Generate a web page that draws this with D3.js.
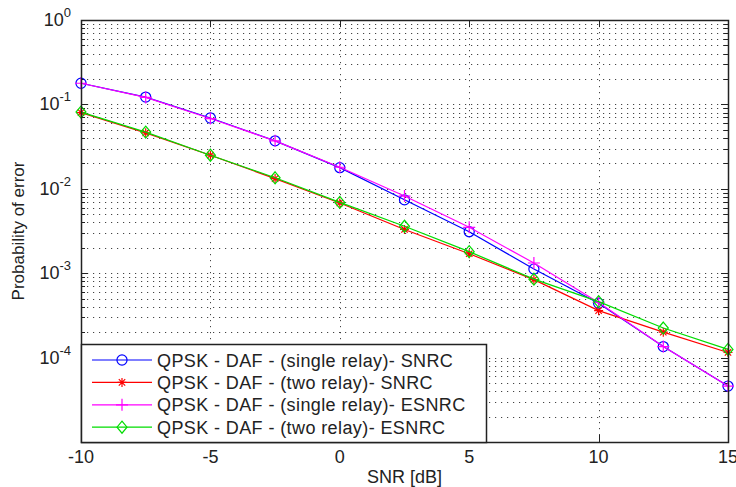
<!DOCTYPE html>
<html>
<head>
<meta charset="utf-8">
<script src="https://cdn.jsdelivr.net/npm/d3@7"></script>
<style>
  body { margin: 0; background: #fff; }
  svg text { font-family: "Liberation Sans", Arial, sans-serif; fill: #222; }
</style>
</head>
<body>
<div id="chart"></div>
<script>
// SNR points (dB)
const snr = [-10, -7.5, -5, -2.5, 0, 2.5, 5, 7.5, 10, 12.5, 15];

// probability of error
const singleSNRC  = [0.178, 0.122, 0.069, 0.037, 0.0178, 0.0074, 0.0031, 0.00112, 0.00044, 0.000135, 0.000046];
const twoSNRC     = [0.080, 0.046, 0.025, 0.0132, 0.0068, 0.0033, 0.0017, 0.00084, 0.00036, 0.000200, 0.000115];
const singleESNRC = [0.178, 0.121, 0.068, 0.037, 0.0180, 0.0082, 0.0035, 0.00132, 0.00045, 0.000135, 0.000046];
const twoESNRC    = [0.081, 0.047, 0.025, 0.0135, 0.0069, 0.0036, 0.0018, 0.00085, 0.00046, 0.000224, 0.000125];

const seriesNames = [
  "QPSK - DAF - (single relay)- SNRC",
  "QPSK - DAF - (two relay)- SNRC",
  "QPSK - DAF - (single relay)- ESNRC",
  "QPSK - DAF - (two relay)- ESNRC"
];
const xTicks = [-10, -5, 0, 5, 10, 15];
const yDecades = [0, -1, -2, -3, -4, -5];
const yLabelled = [0, -1, -2, -3, -4]; // 10^-5 sits under the legend, not shown

const W = 736, H = 487;
const margin = { left: 81, right: 8, top: 20, bottom: 45 };
const iw = W - margin.left - margin.right;
const ih = H - margin.top - margin.bottom;

const series = [
  { name: seriesNames[0], values: singleSNRC,  color: "#0000ff", marker: "circle" },
  { name: seriesNames[1], values: twoSNRC,     color: "#ff0000", marker: "star" },
  { name: seriesNames[2], values: singleESNRC, color: "#ff00ff", marker: "plus" },
  { name: seriesNames[3], values: twoESNRC,    color: "#00dd00", marker: "diamond" }
];

const svg = d3.select("#chart").append("svg")
  .attr("width", W).attr("height", H);

const g = svg.append("g").attr("transform", `translate(${margin.left},${margin.top})`);

const x = d3.scaleLinear().domain([-10, 15]).range([0, iw]);
const y = d3.scaleLog().domain([1e-5, 1]).range([ih, 0]);

// minor + major y values for grid
const yGrid = [];
for (let e = -5; e < 0; e++) for (let m = 1; m < 10; m++) yGrid.push(m * Math.pow(10, e));
yGrid.push(1);

const grid = g.append("g").attr("stroke", "#444").attr("stroke-width", 1)
  .attr("stroke-dasharray", "1.2,4.8");
grid.selectAll(".gy").data(yGrid).enter().append("line")
  .attr("x1", 0).attr("x2", iw)
  .attr("y1", d => Math.round(y(d)) + 0.5).attr("y2", d => Math.round(y(d)) + 0.5);
grid.selectAll(".gx").data(xTicks.slice(1, -1)).enter().append("line")
  .attr("y1", 0).attr("y2", ih)
  .attr("x1", d => Math.round(x(d)) + 0.5).attr("x2", d => Math.round(x(d)) + 0.5);

// tick marks inside the box
const ticks = g.append("g").attr("stroke", "#222").attr("stroke-width", 1);
yGrid.forEach(d => {
  const major = yDecades.some(e => Math.abs(Math.log10(d) - e) < 1e-9);
  const len = major ? 7 : 4;
  const yy = Math.round(y(d)) + 0.5;
  ticks.append("line").attr("x1", 0).attr("x2", len).attr("y1", yy).attr("y2", yy);
  ticks.append("line").attr("x1", iw).attr("x2", iw - len).attr("y1", yy).attr("y2", yy);
});
xTicks.forEach(d => {
  const xx = Math.round(x(d)) + 0.5;
  ticks.append("line").attr("y1", ih).attr("y2", ih - 7).attr("x1", xx).attr("x2", xx);
  ticks.append("line").attr("y1", 0).attr("y2", 7).attr("x1", xx).attr("x2", xx);
});

// curves
const line = d3.line().x((d, i) => x(snr[i])).y(d => y(d));
const markerPath = {
  circle: () => d3.symbol(d3.symbolCircle, 80)(),
  plus: () => "M-6,0H6M0,-6V6",
  star: () => "M-4.5,0H4.5M0,-4.5V4.5M-3.2,-3.2L3.2,3.2M-3.2,3.2L3.2,-3.2",
  diamond: () => "M0,-6L5,0L0,6L-5,0Z"
};

series.forEach(s => {
  g.append("path").datum(s.values)
    .attr("d", line).attr("fill", "none")
    .attr("stroke", s.color).attr("stroke-width", 1.2);
  g.selectAll(null).data(s.values).enter().append("path")
    .attr("transform", (d, i) => `translate(${x(snr[i])},${y(d)})`)
    .attr("d", markerPath[s.marker]())
    .attr("fill", "none").attr("stroke", s.color).attr("stroke-width", 1.2);
});

// box
g.append("rect").attr("x", 0.5).attr("y", 0.5).attr("width", iw).attr("height", ih)
  .attr("fill", "none").attr("stroke", "#222").attr("stroke-width", 1.5);

// x tick labels
g.selectAll(".xl").data(xTicks).enter().append("text")
  .attr("x", d => x(d)).attr("y", ih + 21)
  .attr("text-anchor", "middle").attr("font-size", 18)
  .text(d => d);

// y tick labels as 10^n
const yl = g.selectAll(".yl").data(yLabelled).enter().append("text")
  .attr("x", -10).attr("y", d => y(Math.pow(10, d)) + 6)
  .attr("text-anchor", "end").attr("font-size", 18);
yl.append("tspan").text("10");
yl.append("tspan").attr("dy", -9).attr("font-size", 13).text(d => d);

// axis titles
g.append("text").attr("x", iw / 2).attr("y", ih + 41)
  .attr("text-anchor", "middle").attr("font-size", 18).text("SNR [dB]");
svg.append("text")
  .attr("transform", `translate(24,${margin.top + ih / 2}) rotate(-90)`)
  .attr("text-anchor", "middle").attr("font-size", 17).text("Probability of error");

// legend
const lg = g.append("g").attr("transform", "translate(0,324)");
lg.append("rect").attr("x", 0.5).attr("y", 0.5).attr("width", 405).attr("height", ih - 324)
  .attr("fill", "#fff").attr("stroke", "#222").attr("stroke-width", 1.5);
series.forEach((s, i) => {
  const ry = 16 + i * 22.4;
  lg.append("line").attr("x1", 11).attr("x2", 71).attr("y1", ry).attr("y2", ry)
    .attr("stroke", s.color).attr("stroke-width", 1.2);
  lg.append("path").attr("transform", `translate(41,${ry})`)
    .attr("d", markerPath[s.marker]())
    .attr("fill", "none").attr("stroke", s.color).attr("stroke-width", 1.2);
  lg.append("text").attr("x", 76).attr("y", ry + 6.5).attr("font-size", 18)
    .attr("letter-spacing", 0.4).text(s.name);
});
</script>
</body>
</html>
